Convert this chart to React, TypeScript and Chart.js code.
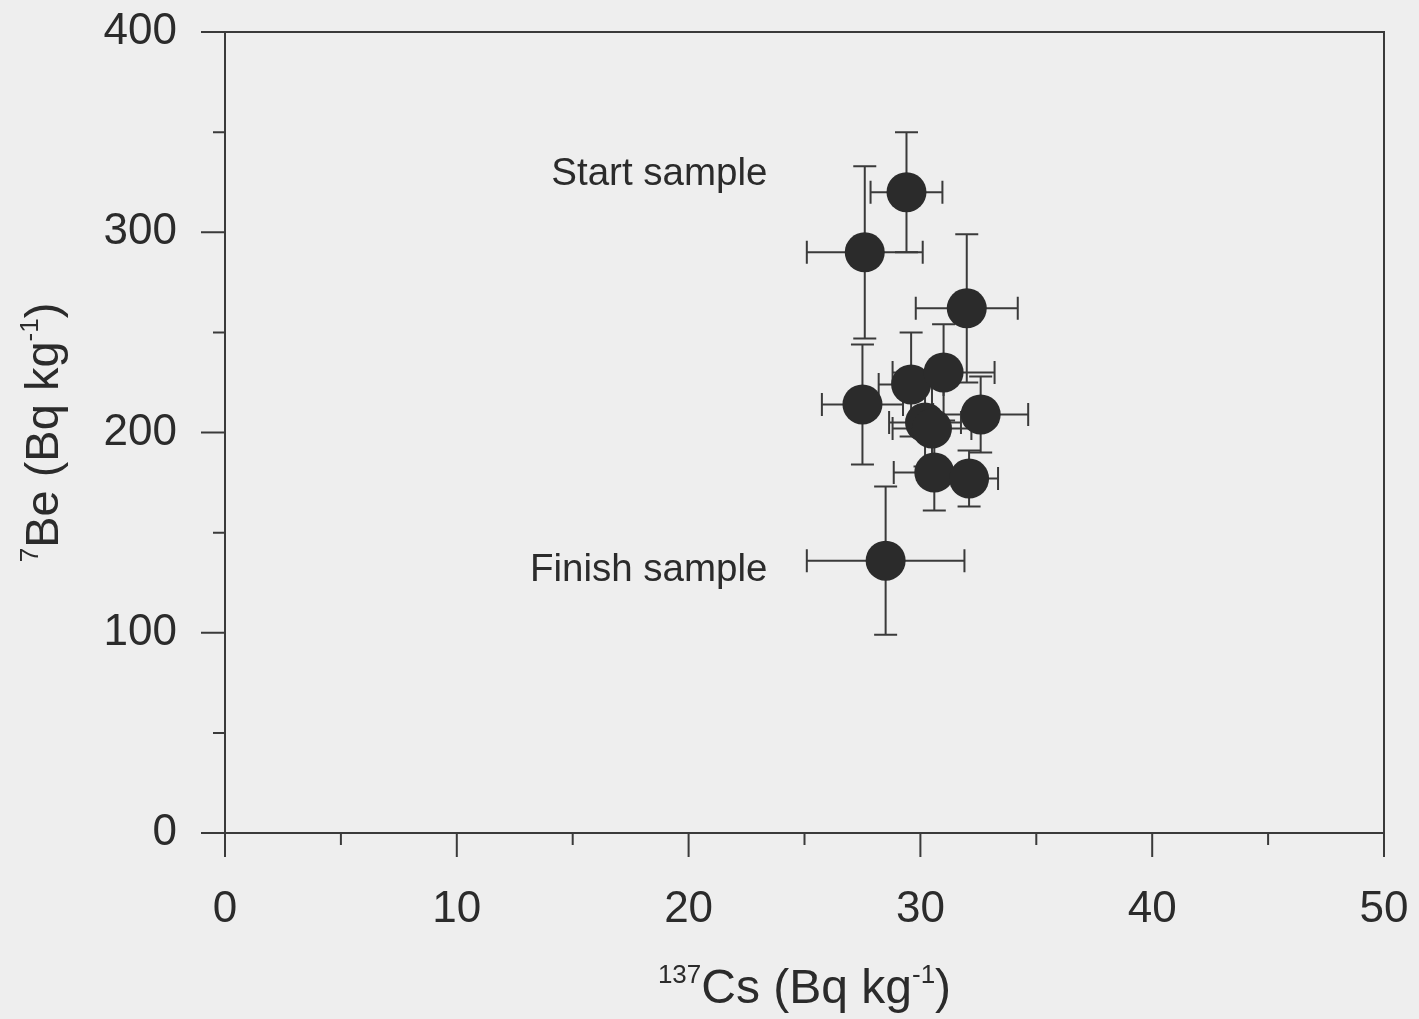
import React, { useEffect, useRef } from "react";
import { Chart, registerables } from "chart.js";

Chart.register(...registerables);

// 137Cs and 7Be activities (Bq kg-1) with their uncertainties
const cs137 = [29.4, 27.6, 32.0, 27.5, 29.6, 31.0, 30.2, 30.5, 32.6, 30.6, 32.1, 28.5];
const be7 = [320, 290, 262, 214, 224, 230, 205, 202, 209, 180, 177, 136];
const cs137Err = [1.55, 2.5, 2.2, 1.75, 1.4, 2.2, 1.55, 1.7, 2.05, 1.75, 1.25, 3.4];
const be7Err = [30, 43, 37, 30, 26, 24, 22, 22, 19, 19, 14, 37];

const xMajor = [0, 10, 20, 30, 40, 50];
const xMinor = [5, 15, 25, 35, 45];
const yMajor = [0, 100, 200, 300, 400];
const yMinor = [50, 150, 250, 350];

const noteText = ["Start sample", "Finish sample"];
const noteCs = [23.4, 23.4];
const noteBe = [329, 131];

const FONT = '"Liberation Sans", Arial, Helvetica, sans-serif';
const INK = "#2b2b2b";
const LINE = "#3a3a3a";
const BG = "#eeeeee";

type Part = { t: string; sup?: boolean };

function drawRich(ctx: CanvasRenderingContext2D, parts: Part[], size: number, supSize: number, rise: number) {
  const widths = parts.map((p) => {
    ctx.font = `${p.sup ? supSize : size}px ${FONT}`;
    return ctx.measureText(p.t).width;
  });
  const total = widths.reduce((a, b) => a + b, 0);
  let x = -total / 2;
  ctx.textAlign = "left";
  ctx.textBaseline = "alphabetic";
  parts.forEach((p, i) => {
    ctx.font = `${p.sup ? supSize : size}px ${FONT}`;
    ctx.fillText(p.t, x, p.sup ? -rise : 0);
    x += widths[i];
  });
}

const framePlugin = {
  id: "frameAndBars",
  beforeDatasetsDraw(chart: any) {
    const { ctx, scales } = chart;
    const xs = scales.x;
    const ys = scales.y;
    ctx.save();
    ctx.strokeStyle = LINE;
    ctx.lineWidth = 2;
    const cap = 11.5;
    cs137.forEach((cx, i) => {
      const px = xs.getPixelForValue(cx);
      const py = ys.getPixelForValue(be7[i]);
      const x0 = xs.getPixelForValue(cx - cs137Err[i]);
      const x1 = xs.getPixelForValue(cx + cs137Err[i]);
      const y0 = ys.getPixelForValue(be7[i] - be7Err[i]);
      const y1 = ys.getPixelForValue(be7[i] + be7Err[i]);
      ctx.beginPath();
      ctx.moveTo(x0, py);
      ctx.lineTo(x1, py);
      ctx.moveTo(x0, py - cap);
      ctx.lineTo(x0, py + cap);
      ctx.moveTo(x1, py - cap);
      ctx.lineTo(x1, py + cap);
      ctx.moveTo(px, y0);
      ctx.lineTo(px, y1);
      ctx.moveTo(px - cap, y0);
      ctx.lineTo(px + cap, y0);
      ctx.moveTo(px - cap, y1);
      ctx.lineTo(px + cap, y1);
      ctx.stroke();
    });
    ctx.restore();
  },
  afterDraw(chart: any) {
    const { ctx, scales, chartArea } = chart;
    const xs = scales.x;
    const ys = scales.y;
    const { left, right, top, bottom } = chartArea;
    ctx.save();
    ctx.strokeStyle = LINE;
    ctx.lineWidth = 2;
    ctx.beginPath();
    ctx.rect(left, top, right - left, bottom - top);
    ctx.stroke();

    // tick marks, pointing outward
    ctx.beginPath();
    xMajor.forEach((v) => {
      const p = xs.getPixelForValue(v);
      ctx.moveTo(p, bottom);
      ctx.lineTo(p, bottom + 24);
    });
    xMinor.forEach((v) => {
      const p = xs.getPixelForValue(v);
      ctx.moveTo(p, bottom);
      ctx.lineTo(p, bottom + 12);
    });
    yMajor.forEach((v) => {
      const p = ys.getPixelForValue(v);
      ctx.moveTo(left, p);
      ctx.lineTo(left - 24, p);
    });
    yMinor.forEach((v) => {
      const p = ys.getPixelForValue(v);
      ctx.moveTo(left, p);
      ctx.lineTo(left - 12, p);
    });
    ctx.stroke();

    // sample notes
    ctx.fillStyle = INK;
    ctx.font = `38.5px ${FONT}`;
    ctx.textAlign = "right";
    ctx.textBaseline = "middle";
    noteText.forEach((t, i) => {
      ctx.fillText(t, xs.getPixelForValue(noteCs[i]), ys.getPixelForValue(noteBe[i]));
    });

    // axis titles
    const cx = (left + right) / 2;
    const cy = (top + bottom) / 2;
    ctx.save();
    ctx.translate(cx, 1003);
    drawRich(ctx, [{ t: "137", sup: true }, { t: "Cs (Bq kg" }, { t: "-1", sup: true }, { t: ")" }], 48, 26, 20);
    ctx.restore();
    ctx.save();
    ctx.translate(58, cy);
    ctx.rotate(-Math.PI / 2);
    drawRich(ctx, [{ t: "7", sup: true }, { t: "Be (Bq kg" }, { t: "-1", sup: true }, { t: ")" }], 47, 26, 20);
    ctx.restore();
    ctx.restore();
  },
};

export default function App() {
  const ref = useRef<HTMLCanvasElement | null>(null);

  useEffect(() => {
    document.body.style.margin = "0";
    document.body.style.background = BG;
    const canvas = ref.current;
    if (!canvas) return;
    const chart = new Chart(canvas, {
      type: "scatter",
      data: {
        datasets: [
          {
            label: "7Be vs 137Cs",
            data: cs137.map((x, i) => ({ x, y: be7[i] })),
            pointRadius: 20,
            pointHoverRadius: 20,
            pointBackgroundColor: INK,
            pointBorderWidth: 0,
            borderWidth: 0,
          },
        ],
      },
      options: {
        animation: false,
        responsive: false,
        devicePixelRatio: 1,
        events: [],
        layout: { padding: { top: 32, right: 35, left: 0, bottom: 0 } },
        plugins: {
          legend: { display: false },
          tooltip: { enabled: false },
          title: { display: false },
        },
        scales: {
          x: {
            type: "linear",
            min: 0,
            max: 50,
            grid: { display: false, drawTicks: false },
            border: { display: false },
            afterBuildTicks: (s: any) => {
              s.ticks = xMajor.map((value) => ({ value }));
            },
            afterFit: (s: any) => {
              s.height = 186;
              s.paddingLeft = 0;
              s.paddingRight = 0;
            },
            ticks: {
              padding: 50,
              color: INK,
              font: { family: FONT, size: 44 },
              maxRotation: 0,
              autoSkip: false,
            },
          },
          y: {
            type: "linear",
            min: 0,
            max: 400,
            grid: { display: false, drawTicks: false },
            border: { display: false },
            afterBuildTicks: (s: any) => {
              s.ticks = yMajor.map((value) => ({ value }));
            },
            afterFit: (s: any) => {
              s.width = 225;
              s.paddingTop = 0;
              s.paddingBottom = 0;
            },
            ticks: {
              padding: 48,
              color: INK,
              font: { family: FONT, size: 44 },
              autoSkip: false,
            },
          },
        },
      },
      plugins: [framePlugin],
    });
    return () => chart.destroy();
  }, []);

  return (
    <div style={{ width: 1419, height: 1019, background: BG }}>
      <canvas ref={ref} width={1419} height={1019} style={{ display: "block" }} />
    </div>
  );
}
